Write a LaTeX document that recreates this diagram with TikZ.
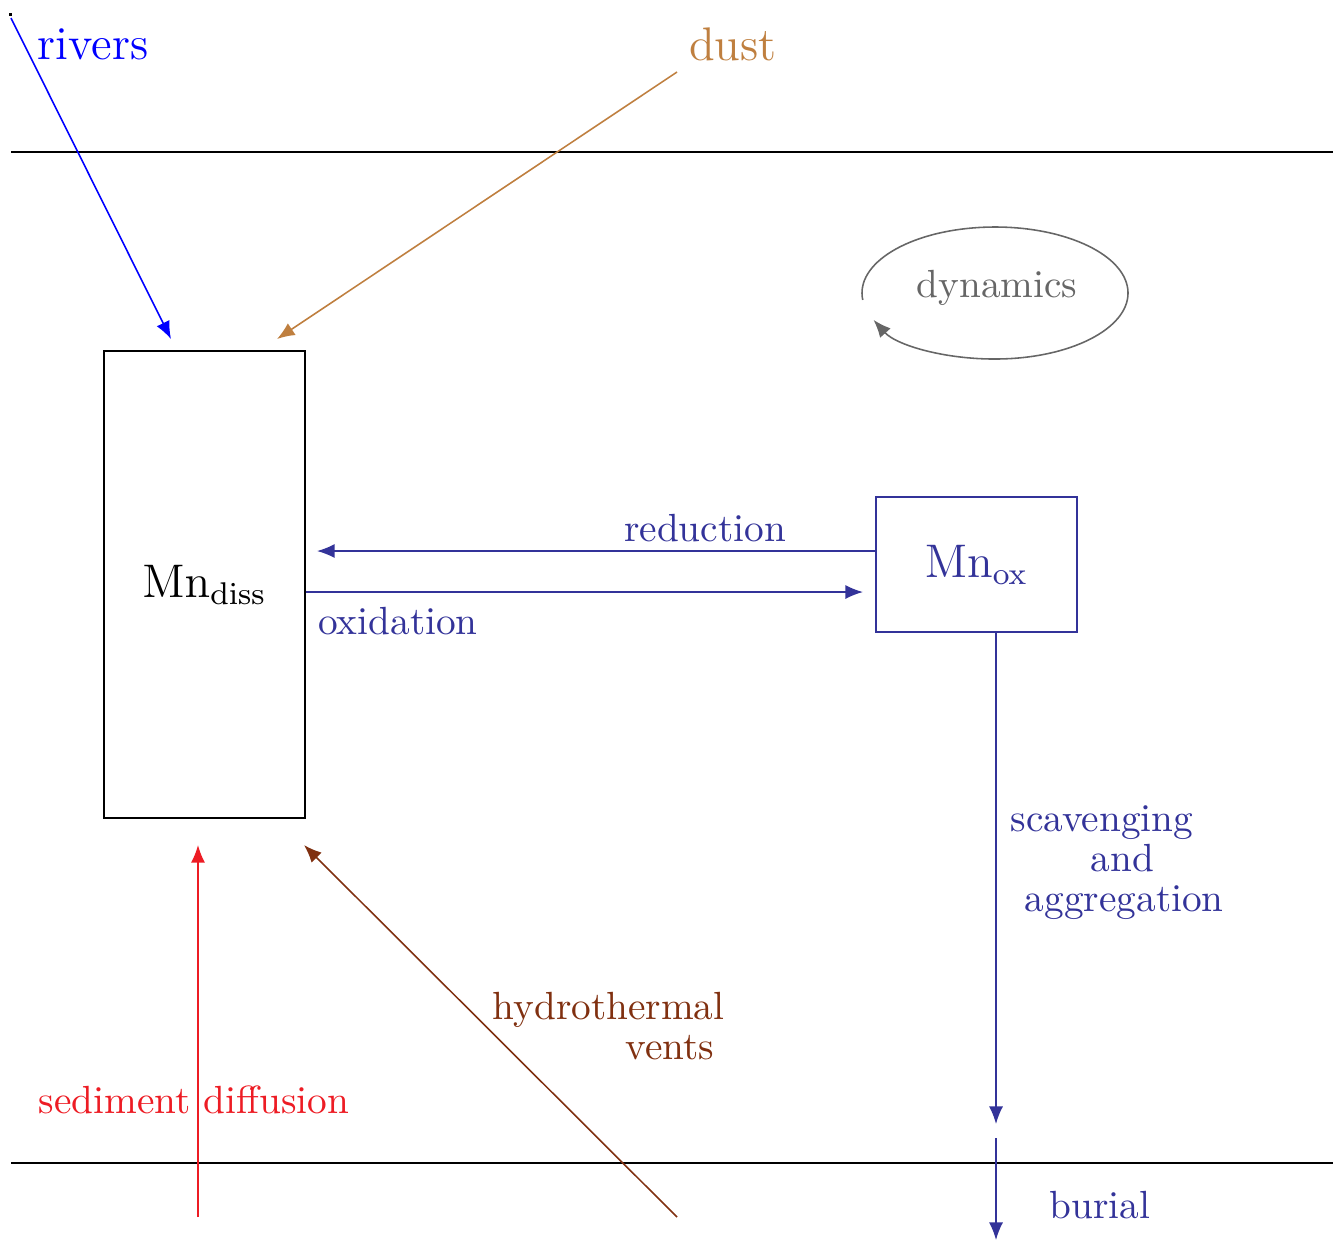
\documentclass[tikz,border=0pt]{standalone}
\usetikzlibrary{arrows.meta}
\definecolor{riverblue}{RGB}{0,0,255}
\definecolor{dustbrown}{RGB}{191,127,63}
\definecolor{oxnavy}{RGB}{51,51,153}
\definecolor{sedred}{RGB}{237,28,36}
\definecolor{ventbrown}{RGB}{128,48,16}
\definecolor{dyngray}{RGB}{102,102,102}
\begin{document}
\begin{tikzpicture}[
      x=0.2545pt, y=-0.2545pt,
      >={Latex[length=4.5pt,width=3.6pt]},
      pool/.style={
        draw,
        minimum width=51.2pt,
        inner sep=0pt,
        font=\large   % boxes get the bigger labels
      },
      tag/.style={inner sep=0pt},
      flux/.style={->}]
      \useasboundingbox (0,0) rectangle (1333,1241);

      % sea surface and sea floor
      \coordinate (surfw) at (11,152);
      \coordinate (surfe) at (1333,152);
      \coordinate (floorw) at (11,1163);
      \coordinate (floore) at (1333,1163);
      \draw (surfw) -- (surfe);
      \draw (floorw) -- (floore);
      \fill (8.5,12.5) rectangle (11.5,15.5);

      % pools
      \node[pool, minimum height=118.9pt] (diss) at (204.5,584.5) {$\mathrm{Mn}_{\mathrm{diss}}$};
      \node[pool, minimum height=34.4pt, draw=oxnavy, text=oxnavy] (ox) at (976.5,564.5) {$\mathrm{Mn}_{\mathrm{ox}}$};

      % sources
      \node[tag, font=\large, text=riverblue] (rivers) at (93,44) {rivers};
      \node[tag, font=\large, text=dustbrown] (dust) at (733,44) {dust};
      \coordinate (rivsrc) at (11,18);
      \coordinate (rivin) at (171,339);
      \coordinate (dustsrc) at (677,72);
      \coordinate (dustin) at (277,339);
      \draw[flux, riverblue] (rivsrc) -- (rivin);
      \draw[flux, dustbrown] (dustsrc) -- (dustin);

      \node[tag, text=sedred] (sed) at (194,1100) {sediment diffusion};
      \node[tag, text=ventbrown, align=left, anchor=west] (vents) at (492,1026)
        {hydrothermal\\[-1.8pt]\hspace*{33.8pt}vents};
      \coordinate (sedsrc) at (198,1217);
      \coordinate (sedin) at (198,845);
      \coordinate (ventsrc) at (677,1217);
      \coordinate (ventin) at (304,845);
      \draw[flux, sedred] (sedsrc) -- (sedin);
      \draw[flux, ventbrown] (ventsrc) -- (ventin);

      % redox
      \coordinate (redin) at (317,551);
      \coordinate (oxin) at (863,592);
      \draw[flux, oxnavy] (ox.west |- redin) -- (redin);
      \draw[flux, oxnavy] (diss.east |- oxin) -- (oxin);
      \node[tag, text=oxnavy] (red) at (705,528) {reduction};
      \node[tag, text=oxnavy] (oxid) at (398,621) {oxidation};

      % sinking and burial
      \coordinate (scav) at (996,1124);
      \coordinate (burtop) at (996,1138);
      \coordinate (burbot) at (996,1240);
      \draw[flux, oxnavy] (ox.south -| scav) -- (scav);
      \draw[flux, oxnavy] (burtop) -- (burbot);
      \node[tag, text=oxnavy, align=left, anchor=west] (scavl) at (1010,863)
        {scavenging\\[-1.8pt]\hspace*{20.4pt}and\\[-1.8pt]\hspace*{3.6pt}aggregation};
      \node[tag, text=oxnavy] (burl) at (1100,1205) {burial};

      % dynamics loop
      \node[tag, text=dyngray] (dyn) at (997,288) {dynamics};
      \coordinate (dync) at (995,293);
      \draw[flux, dyngray] (dync) ++(174:133 and 66)
        arc[start angle=174, end angle=516, x radius=133, y radius=66];
    \end{tikzpicture}
\end{document}
